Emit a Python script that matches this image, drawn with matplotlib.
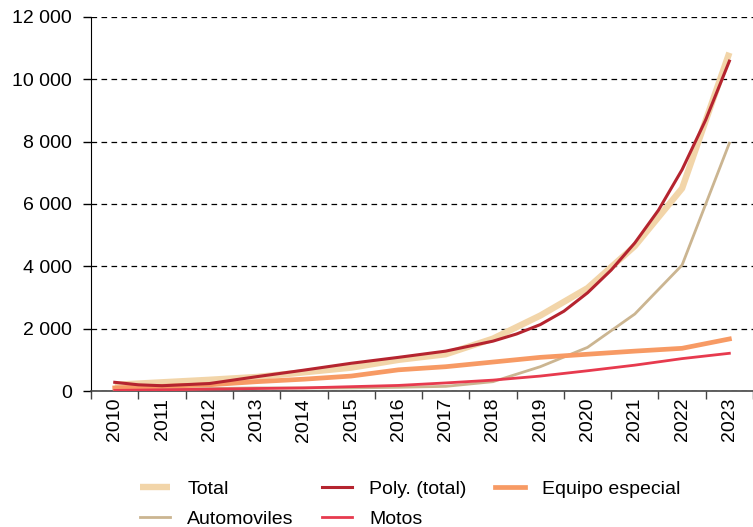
import numpy as np
import matplotlib.pyplot as plt
from matplotlib.ticker import FuncFormatter

plt.rcParams['font.family'] = ['Liberation Sans', 'DejaVu Sans']

years = [str(y) for y in range(2010, 2024)]

total = [200, 280, 360, 450, 600, 750, 1000, 1180, 1680, 2420, 3300, 4650, 6500, 10850]
automoviles = [20, 50, 80, 100, 100, 100, 120, 150, 300, 780, 1400, 2470, 4040, 7950]
equipo = [100, 150, 200, 300, 380, 480, 680, 780, 930, 1080, 1180, 1280, 1370, 1670]
motos = [20, 40, 60, 80, 100, 140, 180, 260, 350, 480, 650, 830, 1040, 1210]

# polynomial trend line (extra readings where it bends)
poly_pos = [0, 0.5, 1, 2, 3, 4, 5, 6, 7, 8, 8.5, 9, 9.5, 10, 10.5, 11, 11.5, 12, 12.5, 13]
poly_total = [280, 200, 170, 240, 460, 670, 890, 1080, 1280, 1600, 1830, 2130, 2560,
              3150, 3880, 4750, 5800, 7100, 8700, 10580]

FS = 14

fig = plt.figure(figsize=(7.53, 5.27), dpi=100)
ax = fig.add_axes([0.121, 0.258, 0.879, 0.71])

x = np.arange(len(years))
l_total, = ax.plot(x, total, color='#F2D5A9', lw=4.6, solid_capstyle='butt', label='Total', zorder=2)
l_auto, = ax.plot(x, automoviles, color='#CBB591', lw=2.0, label='Automoviles', zorder=3)
l_equipo, = ax.plot(x, equipo, color='#F79A64', lw=3.4, label='Equipo especial', zorder=4)
l_motos, = ax.plot(x, motos, color='#E73A4E', lw=2.0, label='Motos', zorder=5)
l_poly, = ax.plot(poly_pos, poly_total, color='#B5242F', lw=2.2, label='Poly. (total)', zorder=6)

ax.set_ylim(0, 12000)
ax.set_xlim(-0.5, 13.29)
ax.set_yticks(np.arange(0, 12001, 2000))
ax.yaxis.set_major_formatter(FuncFormatter(lambda v, p: f'{int(v):,}'.replace(',', ' ')))
ax.grid(axis='y', color='black', linestyle=(0, (4.5, 3.5)), lw=0.9)
ax.set_axisbelow(True)

# category ticks between years, labels centered
ax.set_xticks(np.arange(-0.5, 14, 1))
ax.set_xticklabels([])
ax.set_xticks(x, minor=True)
ax.set_xticklabels(years, minor=True, rotation=90, fontsize=FS)
ax.tick_params(axis='x', which='major', length=6, width=1, color='#444444', direction='out')
ax.tick_params(axis='x', which='minor', length=0, pad=5)
ax.tick_params(axis='y', length=6, width=1, labelsize=FS, pad=8)

for s in ['top', 'right']:
    ax.spines[s].set_visible(False)
ax.spines['left'].set_color('black')
ax.spines['bottom'].set_color('#444444')
ax.spines['bottom'].set_linewidth(1.2)

handles = [l_total, l_auto, l_poly, l_motos, l_equipo]
fig.legend(handles=handles, labels=[h.get_label() for h in handles], ncol=3,
           loc='upper left', bbox_to_anchor=(0.186, 0.088), frameon=False,
           fontsize=FS, handlelength=1.55, handletextpad=0.88,
           columnspacing=1.45, labelspacing=0.62, borderaxespad=0, borderpad=0)

fig.savefig('out.png', dpi=100)
